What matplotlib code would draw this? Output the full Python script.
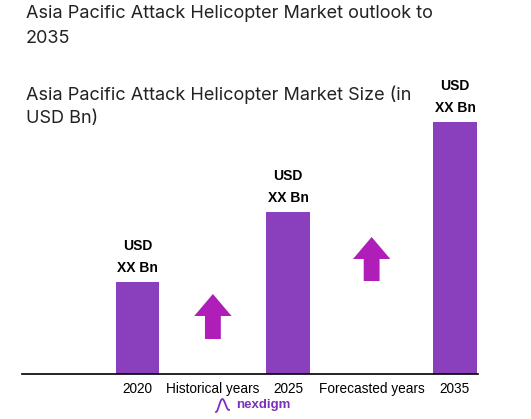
import matplotlib.pyplot as plt
import numpy as np
from matplotlib.patches import FancyArrow

years = ['2020', '2025', '2035']
market_size = [9.2, 16.2, 25.2]
value_labels = ['USD\nXX Bn', 'USD\nXX Bn', 'USD\nXX Bn']
tick_labels = ['2020', 'Historical years', '2025', 'Forecasted years', '2035']
# growth arrows between the bars: (bottom, top)
arrow_spans = [(3.5, 8.0), (9.3, 13.7)]

title = 'Asia Pacific Attack Helicopter Market outlook to\n2035'
subtitle = 'Asia Pacific Attack Helicopter Market Size (in\nUSD Bn)'

bar_color = '#8A40BC'
arrow_color = '#B01EBA'

fig = plt.figure(figsize=(5.31, 4.19), dpi=100)
ax = fig.add_axes([22 / 531, 45 / 419, 456 / 531, 314 / 419])

slots = [0, 0.95, 1.9, 2.95, 4]
bar_pos = [slots[0], slots[2], slots[4]]
arrow_pos = [slots[1], slots[3]]

bars = ax.bar(bar_pos, market_size, width=0.55, color=bar_color)
for b, lab in zip(bars, value_labels):
    ax.text(b.get_x() + b.get_width() / 2, b.get_height() + 0.75, lab,
            ha='center', va='bottom', fontsize=10, fontweight='bold',
            family='Liberation Sans', linespacing=1.65)

for x, (y0, y1) in zip(arrow_pos, arrow_spans):
    ax.add_patch(FancyArrow(x, y0, 0, y1 - y0, width=0.2, head_width=0.47,
                            head_length=2.2, length_includes_head=True,
                            color=arrow_color, lw=0))

ax.set_xlim(-1.455, 4.29)
ax.set_ylim(0, 31.4)
ax.set_xticks(slots)
ax.set_xticklabels(tick_labels, fontsize=9.8, family='Liberation Sans')
ax.tick_params(axis='x', length=0, pad=6)
ax.set_yticks([])
for side in ['top', 'right', 'left']:
    ax.spines[side].set_visible(False)
ax.spines['bottom'].set_linewidth(1.2)

fig.text(26 / 531, 1 - 5 / 419, title, ha='left', va='top', fontsize=13,
         family='Inter', color='#222222', linespacing=1.6)
fig.text(26 / 531, 1 - 85 / 419, subtitle, ha='left', va='top', fontsize=13,
         family='Inter', color='#222222', linespacing=1.5)

# nexdigm logo
t = np.linspace(0, 1, 60)
lx = 216 + 13 * t
ly = 405 + 7 * np.sin(2 * np.pi * t + np.pi / 2) * (1 - 0.3 * t)
fig.add_artist(plt.Line2D(lx / 531, 1 - ly / 419, color='#7B2FBF', lw=1.3,
                          transform=fig.transFigure))
fig.text(236 / 531, 1 - 405 / 419, 'nexdigm', ha='left', va='center',
         fontsize=9.5, fontweight='bold', color='#7B2FBF', family='Liberation Sans')

fig.savefig('out.png', dpi=100)
